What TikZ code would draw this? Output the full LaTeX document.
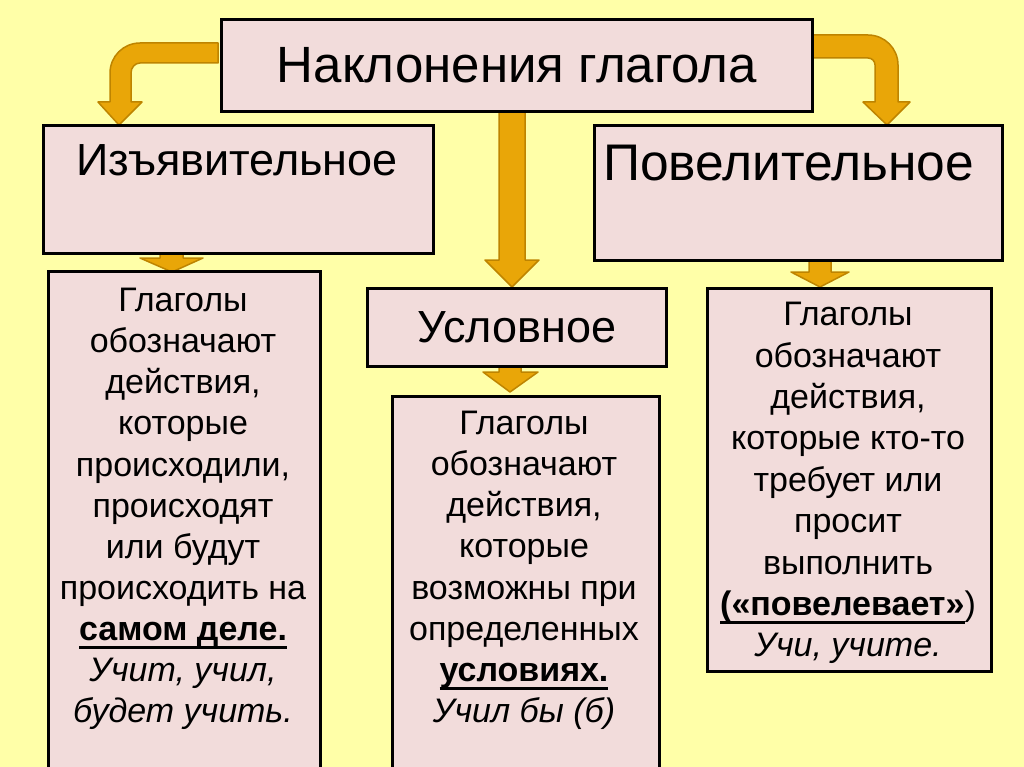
\documentclass[tikz,border=0pt]{standalone}
\usepackage{fontspec}
\setmainfont{Liberation Sans}
\definecolor{bg}{RGB}{255,255,168}
\definecolor{pinkbox}{RGB}{242,220,219}
\definecolor{arrfill}{RGB}{233,166,8}
\definecolor{arrline}{RGB}{190,132,0}
\newcommand\myul[1]{\setbox0\hbox{#1}\rlap{\raisebox{-8.5pt}{\rule{\wd0}{2.6pt}}}\box0}
\begin{document}
\begin{tikzpicture}[x=1pt,y=-1pt,
  box/.style={draw=black,line width=3pt,fill=pinkbox,inner sep=0pt,anchor=north west},
  body/.style={align=center,inner sep=0pt,anchor=north,font=\fontsize{34}{41.1}\selectfont},
  head/.style={inner sep=0pt,font=\fontsize{45}{54}\selectfont},
  arr/.style={fill=arrfill,draw=arrline,line width=1.5pt,line join=round}]
\useasboundingbox (0,0) rectangle (1024,767);
\clip (0,0) rectangle (1024,767);
\fill[bg] (0,0) rectangle (1024,767);
% arrows (drawn first, boxes overlay their ends)
\draw[arr] (218,43) -- (140,43) .. controls (123.4,43) and (110,56.4) .. (110,73) -- (110,102) -- (98,102) -- (119,125) -- (142,102) -- (131,102) -- (131,73) .. controls (131,67.5) and (135,63) .. (140,63) -- (218,63) -- cycle;
\draw[arr] (812,35) -- (868,35) .. controls (884.6,35) and (898,48.4) .. (898,65) -- (898,102) -- (910,102) -- (887,125) -- (863,102) -- (875,102) -- (875,65) .. controls (875,61.1) and (871.9,58) .. (868,58) -- (812,58) -- cycle;
\draw[arr] (499,106) -- (525,106) -- (525,260) -- (539,260) -- (512,287) -- (485,260) -- (499,260) -- cycle;
\draw[arr] (160,249) -- (183,249) -- (183,258) -- (203,258) -- (172,272) -- (140,258) -- (160,258) -- cycle;
\draw[arr] (499,362) -- (521,362) -- (521,372) -- (538,372) -- (510,392) -- (483,372) -- (499,372) -- cycle;
\draw[arr] (809,256) -- (831,256) -- (831,272) -- (849,272) -- (820,287) -- (791,272) -- (809,272) -- cycle;
% boxes
\node[box,minimum width=591pt,minimum height=92pt,font=\fontsize{51}{60}\selectfont] (title) at (220,18) {Наклонения глагола};
\node[box,minimum width=390pt,minimum height=128pt] (ind) at (42,124) {};
\node[head] (indt) at (237,160) {Изъявительное};
\node[box,minimum width=408pt,minimum height=135pt] (imp) at (593,124) {};
\node[head,font=\fontsize{51.5}{60}\selectfont] (impt) at (788.5,163) {Повелительное};
\node[box,minimum width=299pt,minimum height=78pt,font=\fontsize{45}{54}\selectfont] (cond) at (366,287) {Условное};
\node[box,minimum width=272pt,minimum height=520pt] (indb) at (47,270) {};
\node[box,minimum width=267pt,minimum height=400pt] (condb) at (391,395) {};
\node[box,minimum width=284pt,minimum height=383pt] (impb) at (706,287) {};
% body texts
\node[body] (indbt) at (183,288) {Глаголы\\обозначают\\действия,\\которые\\происходили,\\происходят\\или будут\\происходить на\\\myul{\textbf{самом деле.}}\\\textit{Учит, учил,}\\\textit{будет учить.}};
\node[body] (condbt) at (524,411) {Глаголы\\обозначают\\действия,\\которые\\возможны при\\определенных\\\myul{\textbf{условиях.}}\\\textit{Учил бы (б)}};
\node[body,font=\fontsize{34}{41.4}\selectfont] (impbt) at (848,302) {Глаголы\\обозначают\\действия,\\которые кто-то\\требует или\\просит\\выполнить\\\myul{\textbf{(«повелевает»}})\\\textit{Учи, учите.}};
\end{tikzpicture}
\end{document}
